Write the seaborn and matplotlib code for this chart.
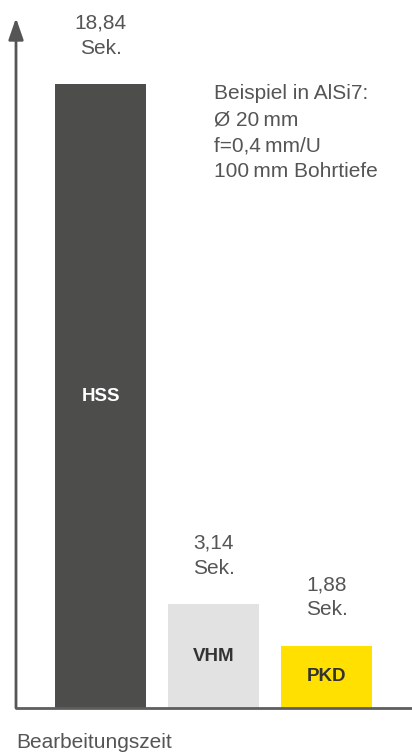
import matplotlib
matplotlib.use("Agg")
import matplotlib.pyplot as plt
import seaborn as sns
import pandas as pd

# Machining time per cutting material (seconds)
tools = ["HSS", "VHM", "PKD"]
seconds = [18.84, 3.14, 1.88]
value_labels = ["18,84", "3,14", "1,88"]
unit = "Sek."
bar_colors = ["#4d4d4c", "#e2e2e2", "#ffe000"]
label_colors = ["#ffffff", "#333333", "#333333"]
note_lines = ["Beispiel in AlSi7:", "Ø 20\u2009mm", "f=0,4\u2009mm/U", "100\u2009mm Bohrtiefe"]
axis_title = "Bearbeitungszeit"

sns.set_theme(style="white")
plt.rcParams["font.family"] = ["Liberation Sans", "DejaVu Sans"]

TEXT = "#555555"
W, H = 412, 756
fig = plt.figure(figsize=(W / 100, H / 100), dpi=100)
fig.patch.set_facecolor("white")
ax = fig.add_axes([16 / W, (H - 708) / H, (W - 16) / W, (708 - 18) / H])

df = pd.DataFrame({"tool": tools, "sec": seconds})
sns.barplot(data=df, x="tool", y="sec", hue="tool", palette=bar_colors,
            width=0.805, saturation=1, legend=False, ax=ax, linewidth=0)

ax.set_ylim(0, max(seconds) * 1.106)
ax.set_xlim(-0.748, -0.748 + 396 / 113)
ax.set_xticks([])
ax.set_yticks([])
ax.set_xlabel("")
ax.set_ylabel("")
for s in ax.spines.values():
    s.set_visible(False)

# axes lines: baseline and upward arrow
ax.axhline(0, color="#5e5e5e", lw=2.0, zorder=5, clip_on=False)
ax.annotate("", xy=(0, 1), xytext=(0, 0), xycoords="axes fraction",
            textcoords="axes fraction",
            arrowprops=dict(arrowstyle="-|>,head_length=1.3,head_width=0.45",
                            mutation_scale=10, color="#555555", lw=2.0,
                            shrinkA=0, shrinkB=0))

for i, (v, lab, name, lc) in enumerate(zip(seconds, value_labels, tools, label_colors)):
    ax.annotate(f"{lab}\n{unit}", xy=(i, v), xytext=(0, 19), textcoords="offset points",
                ha="center", va="bottom", fontsize=15, color=TEXT, linespacing=1.4)
    ax.text(i, v / 2, name, ha="center", va="center", fontsize=13.5,
            fontweight="bold", color=lc)

fig.text(214 / W, 1 - 84 / H, "\n".join(note_lines), ha="left", va="top",
         fontsize=15, color=TEXT, linespacing=1.47)
fig.text(16 / W, 1 - 748 / H, axis_title, ha="left", va="baseline",
         fontsize=15, color=TEXT)

fig.savefig("out.png", dpi=100)
